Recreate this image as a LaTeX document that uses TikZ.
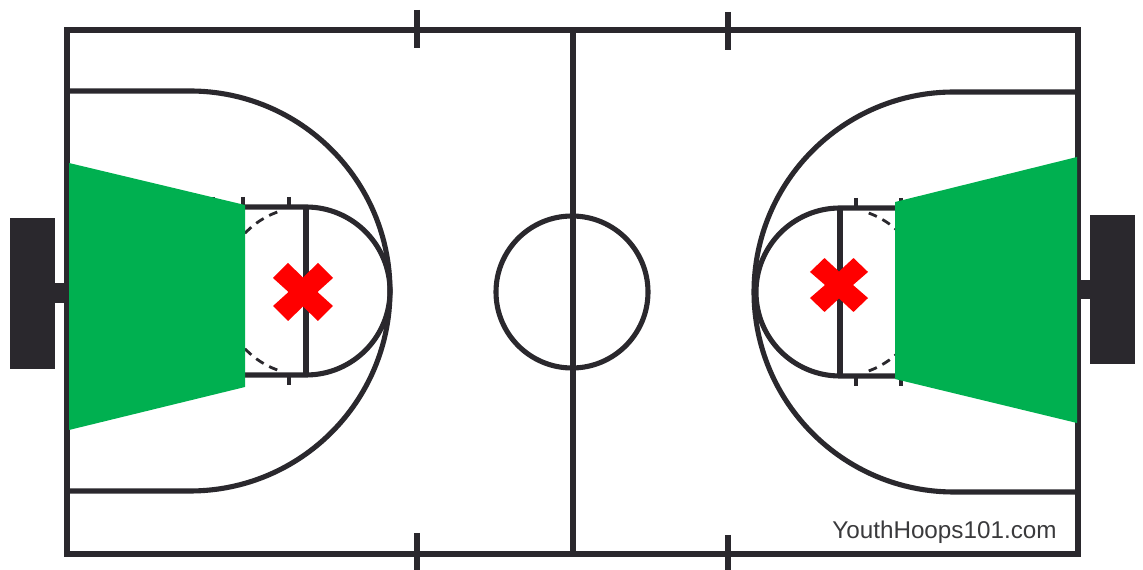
\documentclass[tikz,border=0pt]{standalone}
\usepackage{fontspec}
\setmainfont{Liberation Sans}
\definecolor{court}{HTML}{2A282D}
\definecolor{zone}{HTML}{00B050}
\definecolor{cross}{HTML}{FF0000}
\definecolor{site}{HTML}{3A3A3C}
\newcommand{\redcross}[3]{
 \fill[cross,shift={(#1)},xscale=#2,yscale=#3] (-15,-29)--(0,-14.5)--(15,-29)--(30,-14)--(14.5,0)--(30,14)--(15,29)--(0,14.5)--(-15,29)--(-30,14)--(-14.5,0)--(-30,-14)--cycle;}
\begin{document}
\begin{tikzpicture}[x=0.02cm,y=-0.02cm,
 ln/.style={draw=court,line width=2.9pt},
 tick/.style={draw=court,line width=2.7pt},
 dash line/.style={draw=court,line width=1.6pt,dash pattern=on 5pt off 3.6pt},
 block/.style={fill=court},
 green zone/.style={fill=zone},
 mark text/.style={text=site,inner sep=0pt,font=\fontsize{13.8pt}{16pt}\selectfont}]
 \useasboundingbox (0,0) rectangle (1143,570);
 \coordinate (keyl) at (306,291);
 \coordinate (keyr) at (840,292);
 \draw[ln] (67,30) rectangle (1078,554);
 \draw[ln] (573,30)--(573,554);
 \draw[ln] (572,292) circle[radius=76];
 \foreach \x/\ya/\yb in {417/10/48,417/533/570,728/12/50,728/535/570}
  \draw[ln] (\x,\ya)--(\x,\yb);
 \draw[ln] (67,91)--(190,91) arc[start angle=-90,end angle=90,radius=200]--(67,491);
 \draw[ln] (1078,92)--(954,92) arc[start angle=-90,end angle=-270,radius=200]--(1078,492);
 \draw[ln] (215,207)--(306,207) arc[start angle=-90,end angle=90,radius=84]--(215,375);
 \draw[ln] (306,207)--(306,375);
 \draw[ln] (895,208)--(840,208) arc[start angle=-90,end angle=-270,radius=84]--(895,376);
 \draw[ln] (840,208)--(840,376);
 \foreach \x in {213,243,289}
  \draw[tick] (\x,197)--(\x,207) (\x,375)--(\x,385);
 \foreach \x in {856,901}
  \draw[tick] (\x,198)--(\x,208) (\x,376)--(\x,386);
 \draw[dash line] (keyl)+(-110:84) arc[start angle=-110,end angle=-180,radius=84];
 \draw[dash line] (keyl)+(110:84) arc[start angle=110,end angle=180,radius=84];
 \draw[dash line] (keyr)+(-70:84) arc[start angle=-70,end angle=-30,radius=84];
 \draw[dash line] (keyr)+(70:84) arc[start angle=70,end angle=30,radius=84];
 \fill[block] (10,218) rectangle (55,369);
 \fill[block] (55,283) rectangle (68,303);
 \fill[block] (1090,215) rectangle (1135,364);
 \fill[block] (1078,280) rectangle (1090,299);
 \fill[green zone] (69,163)--(245,205)--(245,387)--(69,430)--cycle;
 \fill[green zone] (895,202)--(1077,157)--(1077,423)--(895,379)--cycle;
 \redcross{303,292}{1}{1}
 \redcross{839,285}{0.967}{0.93}
 \node[mark text,anchor=base west] (site) at (832,539) {YouthHoops101.com};
\end{tikzpicture}
\end{document}
